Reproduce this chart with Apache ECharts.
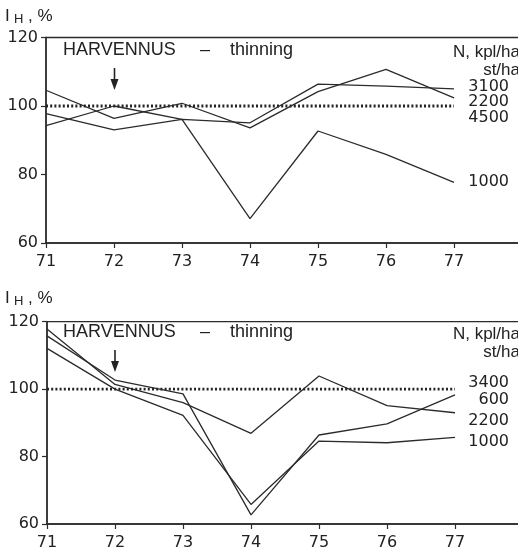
<!DOCTYPE html>
<html>
<head>
<meta charset="utf-8">
<script src="https://cdn.jsdelivr.net/npm/echarts@6/dist/echarts.min.js"></script>
<style>
html,body{margin:0;padding:0;background:#fff}
#c{width:518px;height:552px}
</style>
</head>
<body>
<div id="c"></div>
<script>
// Years on the x axis (19xx)
const years = [71, 72, 73, 74, 75, 76, 77];

// Upper panel: height-growth index IH (%) by stand density N (st/ha)
const upperNames = ['3100', '2200', '4500', '1000'];
const upper3100 = [97.8, 93.0, 96.1, 95.1, 106.4, 105.8, 105.0];
const upper2200 = [104.6, 96.4, 100.8, 93.6, 104.2, 110.7, 102.4];
const upper1000 = [94.3, 100.0, 96.1, 67.1, 92.7, 85.9, 77.7];
const upper4500 = [100, 100, 100, 100, 100, 100, 100];

// Lower panel
const lowerNames = ['3400', '600', '2200', '1000'];
const lower600 = [115.8, 102.7, 98.6, 62.7, 86.4, 89.7, 98.3];
const lower2200 = [117.8, 101.4, 96.0, 86.9, 103.9, 95.1, 93.0];
const lower1000 = [112.1, 100.0, 92.2, 65.8, 84.6, 84.1, 85.7];
const lower3400 = [100, 100, 100, 100, 100, 100, 100];

const titleWords = ['HARVENNUS', '–', 'thinning'];
const unitLines = ['N, kpl/ha', 'st/ha'];

const INK = '#2b2b2b';
const NUM_FONT = '"DejaVu Sans", sans-serif';
const TXT_FONT = '"Liberation Sans", Arial, sans-serif';

const pairs = vals => years.map((y, i) => [y, vals[i]]);

function solid(name, vals, grid) {
  return {
    name, type: 'line', xAxisIndex: grid, yAxisIndex: grid,
    data: pairs(vals), symbol: 'none', silent: true, animation: false,
    lineStyle: { color: INK, width: 1.3 }
  };
}
function dotted(name, vals, grid) {
  return {
    name, type: 'line', xAxisIndex: grid, yAxisIndex: grid,
    data: pairs(vals), symbol: 'none', silent: true, animation: false,
    lineStyle: { color: '#222', width: 2.8, type: [2, 2.2] }
  };
}

function xAxis(grid) {
  return {
    type: 'value', gridIndex: grid, min: 71, max: 78, interval: 1,
    axisLine: { show: true, onZero: false, lineStyle: { color: INK, width: 1.5 } },
    axisTick: { show: true, length: 5, lineStyle: { color: INK, width: 1.2 } },
    axisLabel: {
      color: '#222', fontFamily: NUM_FONT, fontSize: 16, margin: 11,
      formatter: v => (v >= 78 ? '' : String(v))
    },
    splitLine: { show: false }
  };
}
function yAxis(grid) {
  return {
    type: 'value', gridIndex: grid, min: 60, max: 120, interval: 20,
    axisLine: { show: true, onZero: false, lineStyle: { color: INK, width: 1.5 } },
    axisTick: { show: true, length: 5, lineStyle: { color: INK, width: 1.2 } },
    axisLabel: { color: '#222', fontFamily: NUM_FONT, fontSize: 16, margin: 8 },
    splitLine: { show: false }
  };
}

function txt(text, x, y, opts) {
  return {
    type: 'text', x, y, silent: true,
    style: Object.assign({
      text, fill: '#222', font: '18px ' + TXT_FONT,
      textAlign: 'left', textVerticalAlign: 'middle'
    }, opts || {})
  };
}

// Panel annotations: axis title, heading, arrow at thinning year, density labels
function panelGraphics(oy, names, labelYs, arrowX, arrowTop) {
  const g = [];
  g.push(txt('I', 5, oy + 16, { font: '17px ' + TXT_FONT }));
  g.push(txt('H', 14, oy + 19.5, { font: '13px ' + TXT_FONT }));
  g.push(txt(', %', 28, oy + 16, { font: '17px ' + TXT_FONT }));
  g.push(txt(titleWords[0], 63, oy + 50));
  g.push(txt(titleWords[1], 200, oy + 50));
  g.push(txt(titleWords[2], 230, oy + 50));
  g.push(txt(unitLines[0], 520, oy + 52, { textAlign: 'right', font: '17px ' + TXT_FONT }));
  g.push(txt(unitLines[1], 520, oy + 70, { textAlign: 'right', font: '17px ' + TXT_FONT }));
  names.forEach((n, i) => {
    g.push(txt(n, 509, labelYs[i], { textAlign: 'right', font: '16px ' + NUM_FONT }));
  });
  g.push({
    type: 'line', silent: true,
    shape: { x1: arrowX, y1: arrowTop, x2: arrowX, y2: arrowTop + 14 },
    style: { stroke: '#222', lineWidth: 1.6 }
  });
  g.push({
    type: 'polygon', silent: true,
    shape: { points: [[arrowX - 4, arrowTop + 11], [arrowX + 4, arrowTop + 11], [arrowX, arrowTop + 22]] },
    style: { fill: '#222' }
  });
  return g;
}

const chart = echarts.init(document.getElementById('c'), null, { renderer: 'canvas' });

const gridStyle = {
  show: true, borderColor: INK, borderWidth: 1.3, backgroundColor: 'transparent',
  containLabel: false, outerBoundsMode: 'none'
};

chart.setOption({
  backgroundColor: '#fff',
  animation: false,
  grid: [
    Object.assign({ left: 46, top: 37.5, width: 476, height: 205.5 }, gridStyle),
    Object.assign({ left: 47, top: 321.7, width: 476, height: 202.3 }, gridStyle)
  ],
  xAxis: [xAxis(0), xAxis(1)],
  yAxis: [yAxis(0), yAxis(1)],
  series: [
    dotted(upperNames[2], upper4500, 0),
    solid(upperNames[0], upper3100, 0),
    solid(upperNames[1], upper2200, 0),
    solid(upperNames[3], upper1000, 0),
    dotted(lowerNames[0], lower3400, 1),
    solid(lowerNames[1], lower600, 1),
    solid(lowerNames[2], lower2200, 1),
    solid(lowerNames[3], lower1000, 1)
  ],
  graphic: [
    ...panelGraphics(0, upperNames, [87, 102, 118, 182], 114.5, 68),
    ...panelGraphics(282, lowerNames, [383, 400, 421, 442], 115, 350)
  ]
});
</script>
</body>
</html>
